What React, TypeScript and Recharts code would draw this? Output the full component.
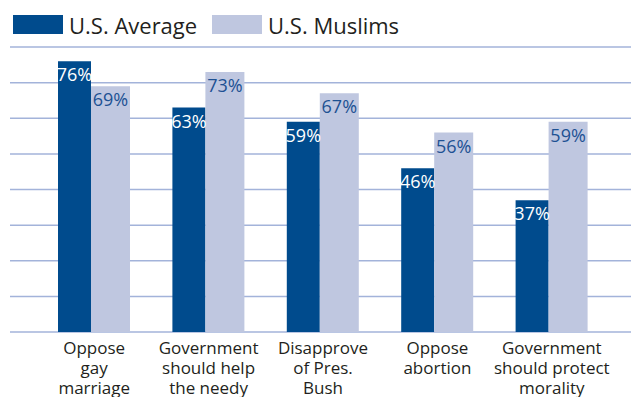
import { BarChart, Bar, XAxis, YAxis, CartesianGrid, LabelList } from "recharts";

const categories = [
  "Oppose\ngay\nmarriage",
  "Government\nshould help\nthe needy",
  "Disapprove\nof Pres.\nBush",
  "Oppose\nabortion",
  "Government\nshould protect\nmorality",
];
const usAverage = [76, 63, 59, 46, 37];
const usMuslims = [69, 73, 67, 56, 59];
const yTicks = [0, 10, 20, 30, 40, 50, 60, 70, 80];

const data = categories.map((c, i) => ({
  category: c,
  average: usAverage[i],
  muslims: usMuslims[i],
}));

const FONT = "'Open Sans', 'DejaVu Sans', sans-serif";
const DARK = "#004b8d";
const LIGHT = "#bfc7e0";
const GRID = "#a3b3da";
const TEXT = "#231f20";

// category names wrap over up to three lines
function CategoryTick(props: any) {
  const { x, y, payload } = props;
  const lines = String(payload.value).split("\n");
  return (
    <g>
      {lines.map((line, i) => (
        <text
          key={i}
          x={x}
          y={y + 22 + i * 20}
          textAnchor="middle"
          fill={TEXT}
          fontSize={17}
          fontFamily={FONT}
        >
          {line}
        </text>
      ))}
    </g>
  );
}

function valueLabel(color: string) {
  return (p: any) => (
    <text
      x={p.x + p.width / 2}
      y={p.y + 20}
      textAnchor="middle"
      fill={color}
      fontSize={18}
      fontFamily={FONT}
    >
      {p.value}%
    </text>
  );
}

function LegendItem({ left, color, label }: { left: number; color: string; label: string }) {
  return (
    <>
      <div
        style={{
          position: "absolute",
          left,
          top: 15,
          width: 50,
          height: 19,
          background: color,
        }}
      />
      <div
        style={{
          position: "absolute",
          left: left + 56,
          top: 13.5,
          fontSize: 22,
          lineHeight: "22px",
          fontFamily: FONT,
          color: TEXT,
          whiteSpace: "nowrap",
        }}
      >
        {label}
      </div>
    </>
  );
}

export default function App() {
  return (
    <div
      style={{
        position: "absolute",
        left: 0,
        top: 0,
        width: 631,
        height: 397,
        background: "#fff",
        overflow: "hidden",
      }}
    >
      <LegendItem left={13} color={DARK} label="U.S. Average" />
      <LegendItem left={212} color={LIGHT} label="U.S. Muslims" />
      <BarChart
        width={631}
        height={397}
        data={data}
        margin={{ top: 47, right: 0, left: 10, bottom: 0 }}
        barGap={0}
      >
        <CartesianGrid
          vertical={false}
          horizontal
          stroke={GRID}
          strokeWidth={1.5}
        />
        <YAxis hide domain={[0, 80]} ticks={yTicks} />
        <XAxis
          dataKey="category"
          axisLine={false}
          tickLine={false}
          tickSize={0}
          tickMargin={0}
          height={65}
          interval={0}
          padding={{ left: 27, right: 22 }}
          tick={<CategoryTick />}
        />
        <Bar dataKey="average" fill={DARK} barSize={33} isAnimationActive={false}>
          <LabelList dataKey="average" content={valueLabel("#ffffff")} />
        </Bar>
        <Bar dataKey="muslims" fill={LIGHT} barSize={39} isAnimationActive={false}>
          <LabelList dataKey="muslims" content={valueLabel("#1d5193")} />
        </Bar>
      </BarChart>
    </div>
  );
}
